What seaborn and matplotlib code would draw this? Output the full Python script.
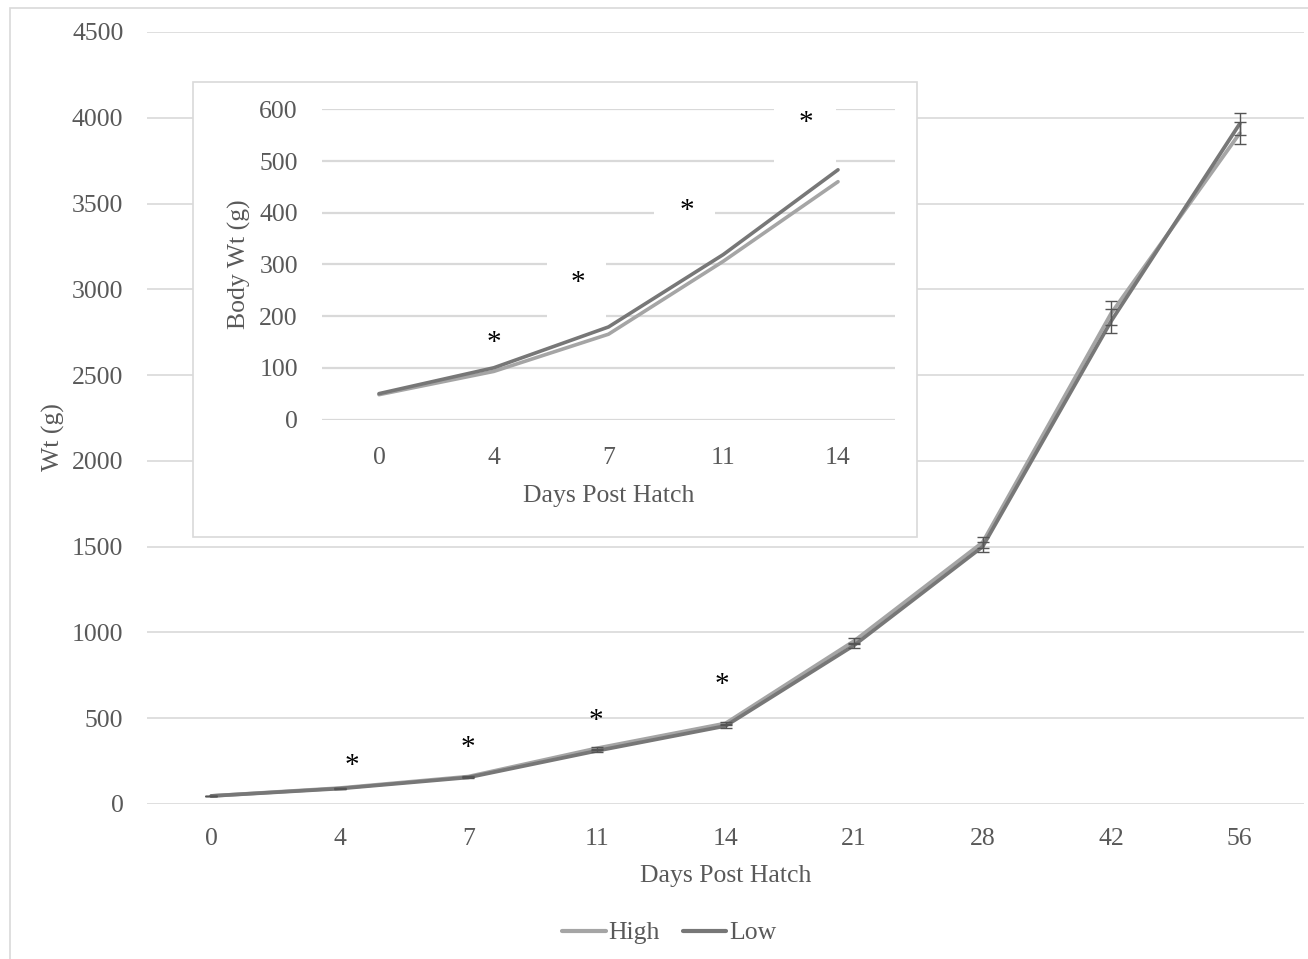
import numpy as np
import pandas as pd
import matplotlib
matplotlib.use("Agg")
import matplotlib.pyplot as plt
from matplotlib.patches import Rectangle
from matplotlib.lines import Line2D
import seaborn as sns

# ---- data -------------------------------------------------------------
days = ["0", "4", "7", "11", "14", "21", "28", "42", "56"]
high = [47, 93, 160, 325, 470, 950, 1525, 2860, 3910]
low = [47, 90, 155, 310, 455, 925, 1500, 2815, 3965]
high_err = [2, 3, 5, 8, 10, 15, 30, 70, 63]
low_err = [2, 3, 5, 8, 10, 15, 30, 70, 63]

inset_days = ["0", "4", "7", "11", "14"]
inset_high = [48, 93, 165, 306, 460]
inset_low = [50, 100, 179, 319, 483]

groups = ["High", "Low"]
main_yticks = list(range(0, 4501, 500))
inset_yticks = list(range(0, 601, 100))

# ---- style ------------------------------------------------------------
sns.set_theme(style="white")
plt.rcParams["font.family"] = ["Liberation Serif", "DejaVu Serif"]
TXT = "#595959"
GRID = "#D9D9D9"
palette = {"High": "#A5A5A5", "Low": "#777777"}
FS = 18.5

W, H = 1308, 959
fig = plt.figure(figsize=(W / 100, H / 100), dpi=100)


def fx(px):
    return px / W


def fy(py):
    return 1 - py / H


# outer chart border
fig.patches.append(Rectangle((fx(10), fy(H + 20)), 1.2, fy(8) - fy(H + 20),
                             transform=fig.transFigure, fill=False,
                             edgecolor=GRID, lw=1.2, zorder=0))

# ---- main chart -------------------------------------------------------
ax = fig.add_axes([fx(147), fy(804), fx(1304) - fx(147), fy(32) - fy(804)])
ax.set_zorder(0)
pos = np.arange(len(days))
df = pd.DataFrame({
    "pos": np.concatenate([pos, pos]),
    "wt": high + low,
    "group": ["High"] * len(days) + ["Low"] * len(days),
})
sns.lineplot(data=df, x="pos", y="wt", hue="group", palette=palette,
             lw=2.7, ax=ax, legend=False, sort=False, zorder=3)
ax.errorbar(pos, high, yerr=high_err, fmt="none", ecolor="#555555",
            elinewidth=1.0, capsize=4, capthick=1.0, zorder=4)
ax.errorbar(pos, low, yerr=low_err, fmt="none", ecolor="#555555",
            elinewidth=1.0, capsize=4, capthick=1.0, zorder=4)

ax.set_xlim(-0.5, len(days) - 0.5)
ax.set_ylim(0, 4500)
ax.set_xticks(pos)
ax.set_xticklabels(days)
ax.set_yticks(main_yticks)
ax.grid(axis="y", color=GRID, lw=1.2)
ax.grid(axis="x", visible=False)
ax.set_axisbelow(True)
for s in ax.spines.values():
    s.set_visible(False)
ax.tick_params(axis="both", length=0, labelsize=FS, labelcolor=TXT)
ax.tick_params(axis="y", pad=17)
ax.tick_params(axis="x", pad=17)
ax.set_xlabel("Days Post Hatch", fontsize=FS, color=TXT)
ax.set_ylabel("Wt (g)", fontsize=FS, color=TXT)
ax.yaxis.set_label_coords((65 - 147) / (1304 - 147), (804 - 437) / 772)
ax.xaxis.set_label_coords(0.5, -(865 - 804) / 772)

# significance markers
for xi, yi in [(1.09, 256), (2.0, 361), (2.99, 513), (3.97, 728)]:
    ax.annotate("*", (xi, yi), xytext=(0, -9), textcoords="offset points",
                ha="center", va="baseline", fontsize=21, color="black",
                zorder=5)

# ---- inset panel --------------------------------------------------------
fig.patches.append(Rectangle((fx(193), fy(537)), fx(917) - fx(193),
                             fy(82) - fy(537), transform=fig.transFigure,
                             facecolor="white", edgecolor=GRID, lw=1.2,
                             zorder=1))

axi = fig.add_axes([fx(321.6), fy(419.5), fx(895.4) - fx(321.6),
                    fy(109.3) - fy(419.5)])
axi.set_zorder(2)
axi.patch.set_alpha(0)
ipos = np.arange(len(inset_days))
dfi = pd.DataFrame({
    "pos": np.concatenate([ipos, ipos]),
    "wt": inset_high + inset_low,
    "group": ["High"] * len(inset_days) + ["Low"] * len(inset_days),
})
sns.lineplot(data=dfi, x="pos", y="wt", hue="group", palette=palette,
             lw=2.6, ax=axi, legend=False, sort=False, zorder=3)
axi.set_xlim(-0.5, len(inset_days) - 0.5)
axi.set_ylim(0, 600)
axi.set_xticks(ipos)
axi.set_xticklabels(inset_days)
axi.set_yticks(inset_yticks)
axi.grid(axis="y", color=GRID, lw=1.6)
axi.grid(axis="x", visible=False)
axi.set_axisbelow(True)
for s in axi.spines.values():
    s.set_visible(False)
axi.tick_params(axis="both", length=0, labelsize=FS, labelcolor=TXT)
axi.tick_params(axis="y", pad=17)
axi.tick_params(axis="x", pad=20)
axi.set_xlabel("Days Post Hatch", fontsize=FS, color=TXT)
axi.set_ylabel("Body Wt (g)", fontsize=FS, color=TXT)
axi.yaxis.set_label_coords((251 - 321.6) / 573.8, 0.5)
axi.xaxis.set_label_coords(0.5, -(485 - 419.5) / 310.2)

# label boxes behind the inset markers
for x0, x1, y0, y1 in [(1.46, 1.98, 185, 321), (2.40, 2.93, 373, 446),
                       (3.44, 3.98, 485, 630)]:
    axi.add_patch(Rectangle((x0, y0), x1 - x0, y1 - y0, facecolor="white",
                            edgecolor="none", zorder=1, clip_on=False))
for xi, yi in [(1.0, 158), (1.73, 275), (2.68, 413), (3.72, 585)]:
    axi.annotate("*", (xi, yi), xytext=(0, -9), textcoords="offset points",
                 ha="center", va="baseline", fontsize=21, color="black",
                 zorder=5, annotation_clip=False)

# ---- legend -------------------------------------------------------------
handles = [Line2D([], [], color=palette[g], lw=3) for g in groups]
leg = fig.legend(handles, groups, loc="center",
                 bbox_to_anchor=(fx(669), fy(933)), ncol=2, frameon=False,
                 fontsize=FS, handlelength=1.7, handletextpad=0.1,
                 columnspacing=0.9)
for t in leg.get_texts():
    t.set_color(TXT)

fig.savefig("out.png", dpi=100)
